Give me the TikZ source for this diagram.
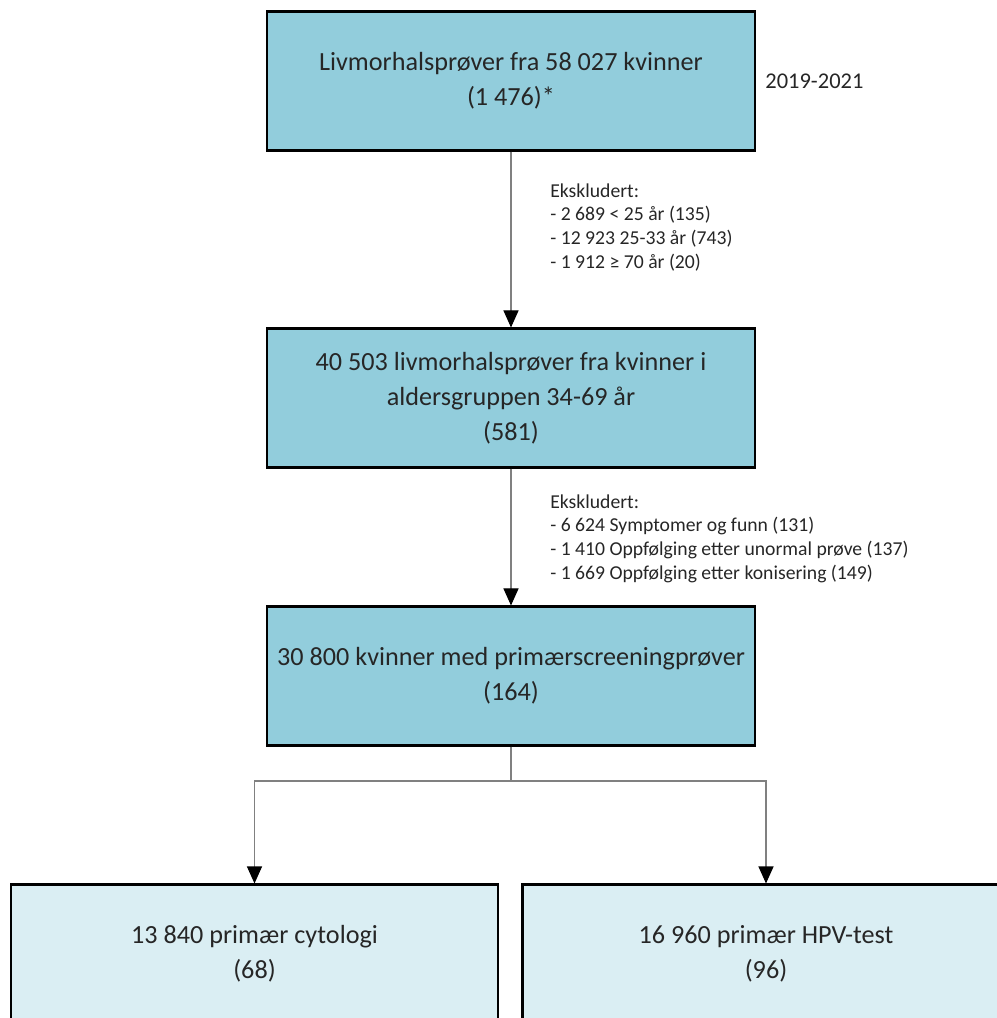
\documentclass[tikz,border=0pt]{standalone}
\usepackage{fontspec}
\setmainfont{Carlito}
\usetikzlibrary{arrows.meta}
\definecolor{Flowdark}{HTML}{92CDDC}
\definecolor{Flowlight}{HTML}{DAEEF3}
\definecolor{Flowline}{HTML}{808080}
\definecolor{Flowtext}{HTML}{262626}

\begin{document}
\begin{tikzpicture}[x=0.02cm,y=-0.02cm,
		box/.style={draw=black,line width=1.2pt,fill=Flowdark,minimum width=9.76cm,
			minimum height=2.78cm,align=center,text=Flowtext,
			font=\fontsize{14.9}{20}\selectfont},
		subbox/.style={box,fill=Flowlight,minimum width=9.74cm},
		conn/.style={draw=Flowline,line width=0.6pt},
		arr/.style={conn,-{Triangle[width=0.3cm,length=0.34cm,color=black]}},
		note/.style={anchor=north west,align=left,inner sep=0pt,text=Flowtext,
			font=\fontsize{11.2}{13.6}\selectfont}]
	\clip (0,0) rectangle (997,1018);
	\node[box] (all) at (511,81) {Livmorhalsprøver fra 58 027 kvinner\\(1 476)*};
	\node[anchor=west,inner sep=0pt,text=Flowtext,font=\fontsize{12.8}{19}\selectfont]
		(year) at (765,81) {2019-2021};
	\node[box] (age) at (511,398) {40 503 livmorhalsprøver fra kvinner i\\aldersgruppen 34-69 år\\(581)};
	\node[box] (prim) at (511,676) {30 800 kvinner med primærscreeningprøver\\(164)};
	\node[subbox] (cyt) at (254.5,954) {13 840 primær cytologi\\(68)};
	\node[subbox] (hpv) at (766,954) {16 960 primær HPV-test\\(96)};
	\node[note] (ex1) at (550,183) {Ekskludert:\\- 2 689 < 25 år (135)\\- 12 923 25-33 år (743)\\- 1 912 ≥ 70 år (20)};
	\node[note] (ex2) at (550,494) {Ekskludert:\\- 6 624 Symptomer og funn (131)\\- 1 410 Oppfølging etter unormal prøve (137)\\- 1 669 Oppfølging etter konisering (149)};
	\coordinate (split) at (511,781);
	\draw[arr] (all.south) -- (age.north);
	\draw[arr] (age.south) -- (prim.north);
	\draw[conn] (prim.south) -- (split);
	\draw[arr] (split) -| (cyt.north);
	\draw[arr] (split) -| (hpv.north);
\end{tikzpicture}
\end{document}
